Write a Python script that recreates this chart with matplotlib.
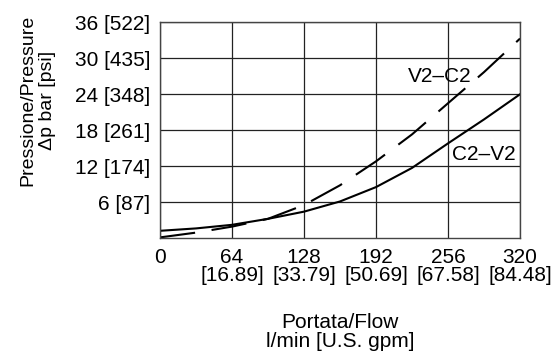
import numpy as np
import matplotlib
matplotlib.use("Agg")
from matplotlib import pyplot as plt

# flow in l/min, pressure drop in bar
flow = [0, 32, 64, 96, 128, 160, 192, 224, 256, 288, 320]
c2_v2 = [1.2, 1.6, 2.2, 3.2, 4.4, 6.1, 8.5, 11.7, 15.8, 19.8, 24.0]
v2_c2 = [0.1, 0.9, 1.9, 3.2, 5.5, 8.8, 12.8, 17.3, 22.5, 27.7, 33.3]

x_ticks = [0, 64, 128, 192, 256, 320]
x_labels = ['0', '64\n[16.89]', '128\n[33.79]', '192\n[50.69]', '256\n[67.58]', '320\n[84.48]']
y_ticks = [6, 12, 18, 24, 30, 36]
y_labels = ['6 [87]', '12 [174]', '18 [261]', '24 [348]', '30 [435]', '36 [522]']

plt.rcParams['font.family'] = ['Liberation Sans', 'DejaVu Sans']

fig = plt.figure(figsize=(5.6, 3.54), dpi=100)
ax = fig.add_axes([0.2857, 0.3277, 0.6429, 0.609])

ax.plot(flow, c2_v2, color='black', lw=1.5)
ax.plot(flow, v2_c2, color='black', lw=1.5, dashes=(17, 8))

ax.set_xlim(0, 320)
ax.set_ylim(0, 36)
ax.set_xticks(x_ticks)
ax.set_xticklabels(x_labels, fontsize=15, linespacing=0.95)
ax.set_yticks(y_ticks)
ax.set_yticklabels(y_labels, fontsize=15)
ax.tick_params(length=0, pad=7)
ax.grid(True, color='#222222', lw=0.9)
for s in ax.spines.values():
    s.set_color('#444444')
    s.set_linewidth(1.0)

ax.text(249, 27, 'V2\u2013C2', fontsize=15, ha='center', va='center')
ax.text(288, 14, 'C2\u2013V2', fontsize=15, ha='center', va='center')

ax.set_xlabel('Portata/Flow\nl/min [U.S. gpm]', fontsize=15, labelpad=20, linespacing=1.0)
ax.set_ylabel('Pressione/Pressure\n\u0394p bar [psi]', fontsize=14, linespacing=1.2)
ax.yaxis.set_label_coords(-0.29, 0.64)

plt.savefig('out.png', dpi=100)
